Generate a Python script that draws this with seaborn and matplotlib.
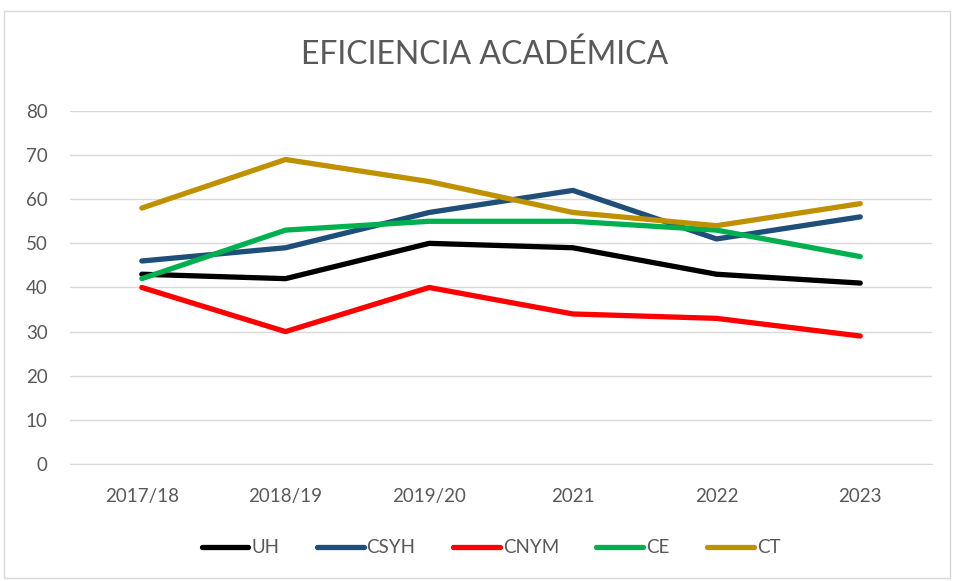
import pandas as pd
import seaborn as sns
import matplotlib.pyplot as plt
from matplotlib.patches import Rectangle

# datos
years = ['2017/18', '2018/19', '2019/20', '2021', '2022', '2023']
uh = [43, 42, 50, 49, 43, 41]
csyh = [46, 49, 57, 62, 51, 56]
cnym = [40, 30, 40, 34, 33, 29]
ce = [42, 53, 55, 55, 53, 47]
ct = [58, 69, 64, 57, 54, 59]

series = {'UH': uh, 'CSYH': csyh, 'CNYM': cnym, 'CE': ce, 'CT': ct}
colors = {'UH': '#000000', 'CSYH': '#1f4e79', 'CNYM': '#ff0000',
          'CE': '#00b050', 'CT': '#bf9000'}

rows = []
for name, vals in series.items():
    for i, v in enumerate(vals):
        rows.append({'pos': i, 'serie': name, 'valor': v})
df = pd.DataFrame(rows)

sns.set_style('white')
plt.rcParams['font.family'] = ['Lato', 'DejaVu Sans']
text_color = '#595959'

fig = plt.figure(figsize=(9.55, 5.81), dpi=100)
ax = fig.add_axes([0.0733, 0.2014, 0.9027, 0.6076])

sns.lineplot(data=df, x='pos', y='valor', hue='serie', palette=colors,
             linewidth=3.8, ax=ax, legend=False, solid_capstyle='round')

ax.set_xlim(-0.5, len(years) - 0.5)
ax.set_ylim(0, 80)
ax.set_yticks(range(0, 81, 10))
ax.set_xticks(range(len(years)))
ax.set_xticklabels(years)
ax.yaxis.grid(True, color='#d9d9d9', linewidth=1)
ax.set_axisbelow(True)
for s in ['top', 'right', 'left']:
    ax.spines[s].set_visible(False)
ax.spines['bottom'].set_color('#d9d9d9')
ax.tick_params(axis='both', colors=text_color, labelsize=13.5, length=0)
ax.tick_params(axis='x', pad=17)
ax.tick_params(axis='y', pad=16)
ax.set_xlabel('')
ax.set_ylabel('')

fig.text(0.507, 0.905, 'EFICIENCIA ACADÉMICA', ha='center', va='center',
         fontsize=23, color=text_color)

handles = [plt.Line2D([0], [0], color=colors[n], linewidth=3.8,
                      solid_capstyle='round') for n in series]
fig.legend(handles, list(series.keys()), loc='center', ncol=5,
           bbox_to_anchor=(0.514, 0.057), frameon=False, fontsize=13.5,
           labelcolor=text_color, handlelength=2.5, handletextpad=0.15,
           columnspacing=2.0)

fig.patches.append(Rectangle((4 / 955, 3 / 581), 946 / 955, 567 / 581,
                             transform=fig.transFigure, fill=False,
                             edgecolor='#d9d9d9', linewidth=1))

plt.savefig('out.png', dpi=100)
plt.close()
